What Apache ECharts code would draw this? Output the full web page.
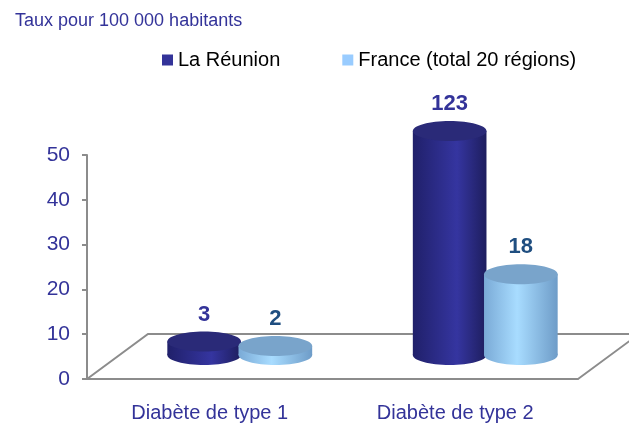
<!DOCTYPE html>
<html>
<head>
<meta charset="utf-8">
<script src="https://cdn.jsdelivr.net/npm/echarts@6/dist/echarts.min.js"></script>
<style>
  html, body { margin: 0; padding: 0; background: #fff; }
  #chart { width: 629px; height: 423px; }
</style>
</head>
<body>
<div id="chart"></div>
<script>
var categories = ['Diabète de type 1', 'Diabète de type 2'];
var reunion = [3, 123];
var france = [2, 18];
var yTicks = [0, 10, 20, 30, 40, 50];

var chart = echarts.init(document.getElementById('chart'));
var yMax = yTicks[yTicks.length - 1];

// profondeur du plancher 3D (pixels)
var depthX = 61, depthY = -45;
var barShiftX = 30, barShiftY = -24;

function cylinder(side, grad, topColor, labelColor) {
  return function (params, api) {
    var i = api.value(0);
    var v = api.value(1);
    var bandW = api.size([1, 0])[0];
    var w = bandW * 0.30;
    var rx = w / 2, ry = 10;
    var base = api.coord([i, 0]);
    var top = api.coord([i, Math.min(v, yMax)]);
    var cx = base[0] + barShiftX + side * bandW * 0.145;
    var by = base[1] + barShiftY;
    var ty = top[1] + barShiftY;
    var fill = new echarts.graphic.LinearGradient(0, 0, 1, 0, grad);
    return {
      type: 'group',
      children: [
        { type: 'ellipse', shape: { cx: cx, cy: by, rx: rx, ry: ry }, style: { fill: fill } },
        { type: 'rect', shape: { x: cx - rx, y: ty, width: w, height: by - ty }, style: { fill: fill } },
        { type: 'ellipse', shape: { cx: cx, cy: ty, rx: rx, ry: ry }, style: { fill: topColor } },
        {
          type: 'text',
          style: {
            x: cx, y: ty - ry - 17, text: String(v), textAlign: 'center', textVerticalAlign: 'middle',
            fill: labelColor, font: 'bold 22px "Liberation Sans", Arial, sans-serif'
          }
        }
      ]
    };
  };
}

var option = {
  animation: false,
  textStyle: { fontFamily: '"Liberation Sans", Arial, sans-serif' },
  title: {
    text: 'Taux pour 100 000 habitants',
    left: 10, top: 7,
    textStyle: { color: '#333399', fontSize: 18, fontWeight: 'normal' }
  },
  legend: {
    data: ['La Réunion', 'France (total 20 régions)'],
    left: 157, top: 45,
    icon: 'rect', itemWidth: 11, itemHeight: 11, itemGap: 62,
    textStyle: { color: '#000', fontSize: 20 }
  },
  grid: { left: 87, right: 51, top: 155, bottom: 43 },
  xAxis: {
    type: 'category',
    data: categories,
    axisLine: { lineStyle: { color: '#8c8c8c', width: 2 } },
    axisTick: { length: 7, lineStyle: { color: '#8c8c8c', width: 2 } },
    axisLabel: { color: '#333399', fontSize: 20, margin: 24 }
  },
  yAxis: {
    type: 'value',
    min: 0, max: yMax, interval: 10,
    splitLine: { show: false },
    axisLine: { show: true, lineStyle: { color: '#8c8c8c', width: 2 } },
    axisTick: { show: true, length: 5, lineStyle: { color: '#8c8c8c', width: 2 } },
    axisLabel: { color: '#333399', fontSize: 21, margin: 17 }
  },
  series: [
    {
      name: 'floor',
      type: 'custom',
      z: 1,
      silent: true,
      data: [[0, 0]],
      renderItem: function (params, api) {
        var bandW = api.size([1, 0])[0];
        var p0 = api.coord([0, 0]);
        var p1 = api.coord([categories.length - 1, 0]);
        var x0 = p0[0] - bandW / 2, x1 = p1[0] + bandW / 2, y0 = p0[1];
        return {
          type: 'polyline',
          shape: { points: [[x0, y0], [x0 + depthX, y0 + depthY], [x1 + depthX, y0 + depthY], [x1, y0]] },
          style: { stroke: '#8c8c8c', lineWidth: 2, fill: null }
        };
      }
    },
    {
      name: 'La Réunion',
      type: 'custom',
      z: 3,
      itemStyle: { color: '#333399' },
      data: reunion.map(function (v, i) { return [i, v]; }),
      encode: { x: 0, y: 1 },
      renderItem: cylinder(-1, [
        { offset: 0, color: '#20206a' },
        { offset: 0.6, color: '#3535a0' },
        { offset: 1, color: '#1e1e5e' }
      ], '#2a2a78', '#333399')
    },
    {
      name: 'France (total 20 régions)',
      type: 'custom',
      z: 4,
      itemStyle: { color: '#99ccff' },
      data: france.map(function (v, i) { return [i, v]; }),
      encode: { x: 0, y: 1 },
      renderItem: cylinder(1, [
        { offset: 0, color: '#7aaad6' },
        { offset: 0.45, color: '#a8dcff' },
        { offset: 1, color: '#6e9cc8' }
      ], '#79a4cb', '#1f4e80')
    }
  ]
};

chart.setOption(option);
</script>
</body>
</html>
